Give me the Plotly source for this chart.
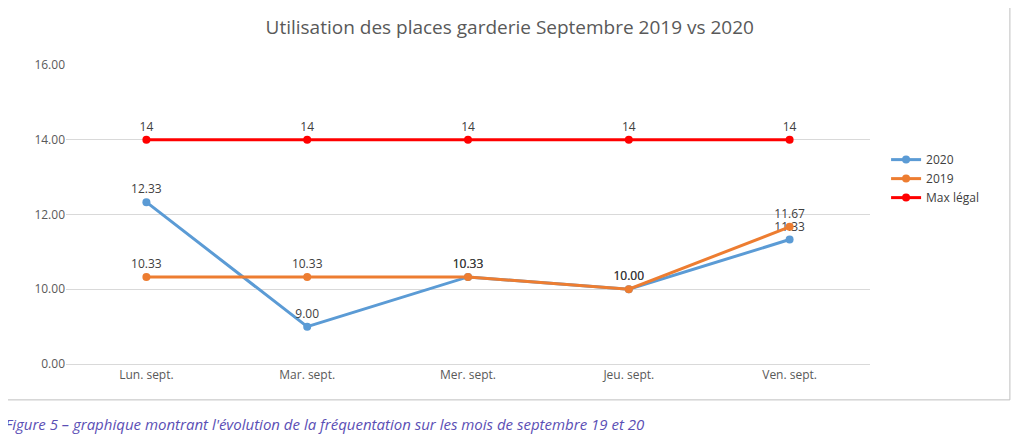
import plotly.graph_objects as go

categories = ["Lun. sept.", "Mar. sept.", "Mer. sept.", "Jeu. sept.", "Ven. sept."]
s2020 = [12.33, 9.00, 10.33, 10.00, 11.33]
s2019 = [10.33, 10.33, 10.33, 10.00, 11.67]
smax = [14, 14, 14, 14, 14]
tick_vals = [8, 10, 12, 14, 16]
tick_text = ["0.00", "10.00", "12.00", "14.00", "16.00"]

fig = go.Figure()
fig.add_trace(go.Scatter(x=categories, y=s2020, name="2020", mode="lines+markers+text",
    line=dict(color="#5b9bd5", width=3), marker=dict(size=8),
    text=[f"{v:.2f}" for v in s2020], textposition="top center",
    textfont=dict(color="#404040", size=12)))
fig.add_trace(go.Scatter(x=categories, y=s2019, name="2019", mode="lines+markers+text",
    line=dict(color="#ed7d31", width=3), marker=dict(size=8),
    text=[f"{v:.2f}" for v in s2019],
    textposition=["top center"] * 4 + ["top center"],
    textfont=dict(color="#404040", size=12)))
fig.add_trace(go.Scatter(x=categories, y=smax, name="Max légal", mode="lines+markers+text",
    line=dict(color="#ff0000", width=3), marker=dict(size=8),
    text=[str(v) for v in smax], textposition="top center",
    textfont=dict(color="#404040", size=12)))

fig.update_layout(
    width=1024, height=441, paper_bgcolor="white", plot_bgcolor="white",
    margin=dict(l=58, r=162, t=57, b=85),
    font=dict(family="Open Sans", color="#595959"),
    title=dict(text="Utilisation des places garderie Septembre 2019 vs 2020",
               x=0.49, xanchor="center", y=0.955, yanchor="middle",
               font=dict(size=19, color="#595959")),
    legend=dict(x=1.02, y=0.62, yanchor="middle", font=dict(size=12, color="#404040"),
                tracegroupgap=8),
    xaxis=dict(range=[-0.5, 4.5], showgrid=False, showline=True, linecolor="#d9d9d9",
               ticks="", tickfont=dict(size=12)),
    yaxis=dict(range=[8, 16], tickvals=tick_vals, ticktext=tick_text,
               gridcolor="#d9d9d9", zeroline=False, tickfont=dict(size=12)),
    showlegend=True,
)
fig.add_shape(type="rect", xref="paper", yref="paper", x0=-0.076, x1=1.174,
              y0=-0.12, y1=1.2, line=dict(color="#bfbfbf", width=1))
fig.add_annotation(xref="paper", yref="paper", x=-0.078, y=-0.2, xanchor="left",
    yanchor="middle", showarrow=False,
    text="<i>Figure 5 – graphique montrant l'évolution de la fréquentation sur les mois de septembre 19 et 20</i>",
    font=dict(size=15, color="#5b4fb5", family="Open Sans"))
fig.write_html("out.html")
